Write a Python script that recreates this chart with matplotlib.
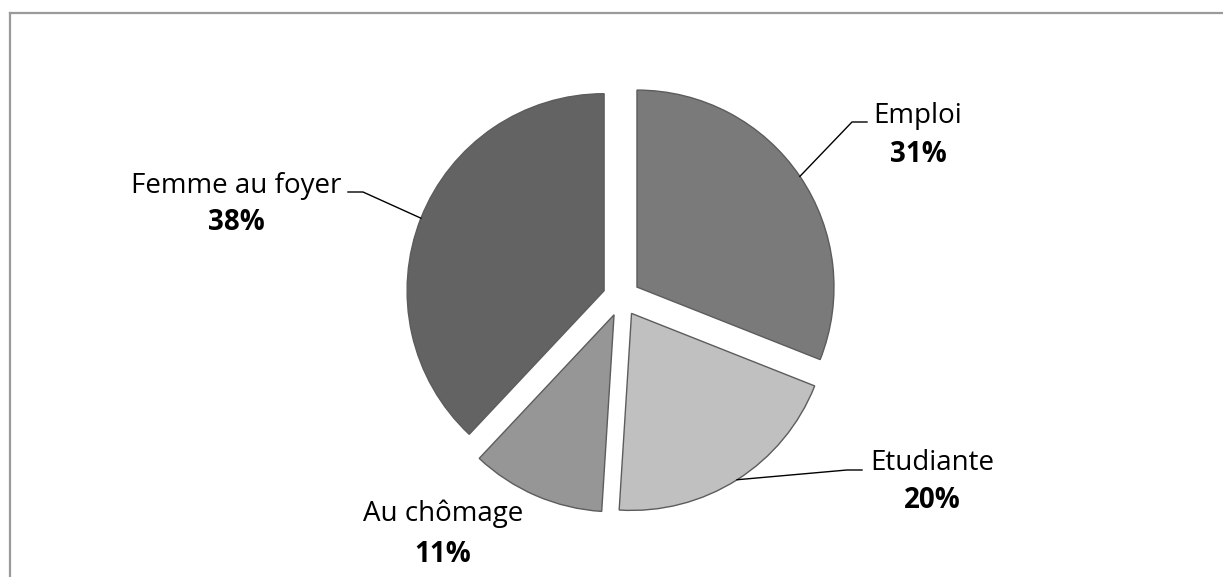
import numpy as np
import matplotlib
matplotlib.use('Agg')
import matplotlib.pyplot as plt
from matplotlib.lines import Line2D

# data, clockwise from 12 o'clock
labels = ["Emploi", "Etudiante", "Au chômage", "Femme au foyer"]
values = [31, 20, 11, 38]
colors = ["#7a7a7a", "#c0c0c0", "#969696", "#636363"]

W, H = 1223, 577
fig = plt.figure(figsize=(W / 100, H / 100), dpi=100)
ax = fig.add_axes([0, 0, 1, 1])

# frame (only left + top visible)
fig.add_artist(Line2D([9.5 / W, 9.5 / W], [0, 1 - 12.5 / H], color="#9a9a9a", lw=1.6,
                      transform=fig.transFigure))
fig.add_artist(Line2D([9.5 / W, 1], [1 - 12.5 / H, 1 - 12.5 / H], color="#9a9a9a", lw=1.6,
                      transform=fig.transFigure))

# pie drawn in pixel units; explode is absolute in data units here
cx, cy, R = 621.5, H - 297.6, 197
wedges, _ = ax.pie(values, colors=colors, startangle=90, counterclock=False,
                   explode=[0.095 * R] * 4, center=(cx, cy), radius=R,
                   wedgeprops=dict(edgecolor="#5c5c5c", linewidth=1.0),
                   frame=True)
ax.set_xlim(0, W)
ax.set_ylim(0, H)
ax.axis('off')

font = "Open Sans"
fs = 20
# label anchors (image coords): name baseline, pct baseline
lab_pos = {
    "Emploi": (918, 123, 162),
    "Etudiante": (932, 470, 508),
    "Au chômage": (443, 521, 562),
    "Femme au foyer": (236, 193, 230),
}
# leader elbow -> end near the text
leaders = {
    "Emploi": [(852, 122), (867, 122)],
    "Etudiante": [(847, 470), (862, 470)],
    "Femme au foyer": [(363, 192), (348, 192)],
}

for w, lab, v in zip(wedges, labels, values):
    x, yn, yp = lab_pos[lab]
    ax.text(x, H - yn, lab, ha='center', va='baseline', fontsize=fs, family=font)
    ax.text(x, H - yp, "%d%%" % v, ha='center', va='baseline', fontsize=fs,
            family=font, fontweight='bold')
    if lab in leaders:
        mid = np.deg2rad((w.theta1 + w.theta2) / 2)
        wx, wy = w.center
        px = wx + R * np.cos(mid)
        py = wy + R * np.sin(mid)
        pts = [(px, py)] + [(a, H - b) for a, b in leaders[lab]]
        ax.plot([p[0] for p in pts], [p[1] for p in pts], color="black", lw=1.0)

fig.savefig("out.png", dpi=100)
